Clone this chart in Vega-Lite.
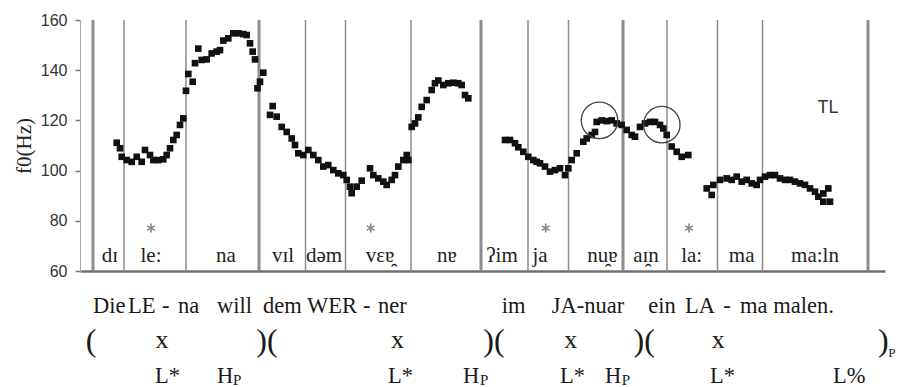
{
  "$schema": "https://vega.github.io/schema/vega-lite/v6.json",
  "width": 805,
  "height": 251,
  "autosize": {"type": "none"},
  "padding": {"left": 80, "top": 20, "right": 17, "bottom": 116},
  "background": "white",
  "config": {"view": {"stroke": null}},
  "datasets": {
    "pts": [
      {"t":36.7,"f":111.1},{"t":40,"f":108.9},{"t":41.7,"f":105.5},{"t":46.7,"f":104.2},{"t":51.7,"f":103.5},{"t":56.7,"f":105.5},{"t":61.7,"f":103.5},{"t":65,"f":108.2},{"t":70,"f":106.2},{"t":73.3,"f":104.2},{"t":78.3,"f":104.2},{"t":83.3,"f":104.5},{"t":86.7,"f":106.2},{"t":90,"f":108.9},{"t":93.3,"f":112.2},{"t":96.7,"f":114.2},{"t":100,"f":118.2},{"t":103.3,"f":120.8},
      {"t":106,"f":131.8},{"t":108.3,"f":138.5},{"t":112.7,"f":135.4},{"t":115,"f":142.8},{"t":118.3,"f":148.6},{"t":121.7,"f":144.1},{"t":126.7,"f":144.3},{"t":131.7,"f":146.7},{"t":136.7,"f":147.4},{"t":140,"f":148},{"t":143.3,"f":151.8},{"t":148.3,"f":152.7},{"t":153.3,"f":154.7},{"t":158.3,"f":154.7},{"t":163.3,"f":154.4},{"t":166.7,"f":154},{"t":170,"f":150.7},{"t":172.7,"f":147.4},{"t":175,"f":144.3},{"t":177.5,"f":132.8},{"t":180,"f":135.4},{"t":183.3,"f":139},
      {"t":190,"f":122.2},{"t":192.7,"f":125.7},{"t":196.7,"f":121.5},{"t":201.7,"f":117.4},{"t":206.7,"f":115.4},{"t":211.7,"f":112.8},{"t":215,"f":110.2},{"t":218.3,"f":106.9},
      {"t":223.3,"f":106.2},{"t":228.3,"f":108.2},{"t":233.3,"f":106.2},{"t":238.3,"f":104.2},{"t":243.3,"f":101.6},{"t":248.3,"f":102.2},{"t":253.3,"f":100.2},{"t":258.3,"f":98.9},{"t":263.3,"f":98.2},{"t":266.7,"f":96.3},{"t":270,"f":93.6},{"t":271.7,"f":91},{"t":276.7,"f":93.6},{"t":281.7,"f":96},
      {"t":290,"f":100.9},{"t":293.3,"f":98.2},{"t":298.3,"f":96.9},{"t":303.3,"f":95.6},{"t":306.7,"f":94.3},{"t":311.7,"f":96.3},{"t":315,"f":98.2},{"t":318.3,"f":101.6},{"t":323.3,"f":104.2},{"t":326.7,"f":106.2},{"t":328.3,"f":104.2},
      {"t":331.7,"f":117.4},{"t":335,"f":118.8},{"t":338.3,"f":121.2},{"t":341.7,"f":125.4},{"t":346.7,"f":128.1},{"t":351.7,"f":132.1},{"t":355,"f":134.8},{"t":358.3,"f":135.9},{"t":363.3,"f":134.1},{"t":368.3,"f":134.8},{"t":373.3,"f":135},{"t":378.3,"f":134.8},{"t":381.7,"f":134.1},{"t":385,"f":130.1},{"t":388.3,"f":128.8},
      {"t":425,"f":112.2},{"t":430,"f":112.2},{"t":435,"f":110.9},{"t":438.3,"f":109.3},{"t":443.3,"f":107.5},{"t":448.3,"f":105.5},{"t":453.3,"f":104.2},{"t":456.7,"f":103.5},{"t":460,"f":102.9},{"t":465,"f":101.6},{"t":470,"f":99.6},{"t":475,"f":100.2},{"t":480,"f":100.9},{"t":485,"f":98.2},{"t":488.3,"f":100.9},{"t":491.7,"f":104.2},{"t":496.7,"f":106.9},{"t":503.3,"f":111.5},{"t":506.7,"f":112.8},{"t":511.7,"f":114.2},{"t":515,"f":115.4},{"t":516.7,"f":119.4},{"t":521.7,"f":120},{"t":526.7,"f":119.7},{"t":531.7,"f":120},{"t":536.7,"f":118.8},{"t":541.7,"f":118.2},{"t":546.7,"f":116.2},{"t":551.7,"f":114.2},{"t":555,"f":113.5},{"t":560,"f":117.4},{"t":565,"f":118.8},{"t":570,"f":119.4},{"t":575,"f":119.4},{"t":580,"f":118.2},{"t":583.3,"f":116.8},{"t":586.7,"f":114.2},{"t":591.7,"f":109.6},{"t":596.7,"f":107.5},{"t":601.7,"f":105.5},{"t":608.3,"f":106.2},
      {"t":626.7,"f":92.9},{"t":631.7,"f":90.3},{"t":633.3,"f":94.3},{"t":640,"f":96.3},{"t":646.7,"f":96.9},{"t":651.7,"f":96.3},{"t":656.7,"f":97.6},{"t":661.7,"f":95.6},{"t":666.7,"f":96.3},{"t":671.7,"f":94.9},{"t":676.7,"f":94.3},{"t":680,"f":96.3},{"t":685,"f":97.6},{"t":690,"f":98.2},{"t":695,"f":98.2},{"t":700,"f":96.9},{"t":705,"f":96.3},{"t":710,"f":96.3},{"t":715,"f":95.6},{"t":720,"f":94.9},{"t":725,"f":94.3},{"t":730,"f":92.9},{"t":735,"f":91.6},{"t":738.3,"f":89.6},{"t":743.3,"f":90.9},{"t":748.3,"f":92.9},{"t":743.3,"f":87.6},{"t":750,"f":87.6}
    ],
    "bounds": [
      {"t":13,"kind":"phrase"},{"t":44,"kind":"syllable"},{"t":106,"kind":"syllable"},{"t":179,"kind":"phrase"},{"t":225.5,"kind":"syllable"},{"t":265.5,"kind":"syllable"},{"t":331,"kind":"syllable"},{"t":401,"kind":"phrase"},{"t":448,"kind":"syllable"},{"t":488.5,"kind":"syllable"},{"t":543,"kind":"phrase"},{"t":587,"kind":"syllable"},{"t":637.5,"kind":"syllable"},{"t":682.5,"kind":"syllable"},{"t":788,"kind":"phrase"}
    ],
    "syl": [
      {"t":30,"f":63.6,"s":"dɪ"},{"t":71,"f":63.6,"s":"le:"},{"t":146,"f":63.6,"s":"na"},{"t":203,"f":63.6,"s":"vɪl"},{"t":244,"f":63.6,"s":"dəm"},{"t":300,"f":63.6,"s":"vɛɐ̯"},{"t":367,"f":63.6,"s":"nɐ"},{"t":422,"f":63.6,"s":"ʔim"},{"t":460,"f":63.6,"s":"ja"},{"t":522.5,"f":63.6,"s":"nu̯ɐ"},{"t":566,"f":63.6,"s":"aɪ̯n"},{"t":611.7,"f":63.6,"s":"la:"},{"t":661.7,"f":63.6,"s":"ma"},{"t":735,"f":63.6,"s":"ma:ln"}
    ],
    "stars": [
      {"t":71,"f":77.1},{"t":290.7,"f":77.1},{"t":465.7,"f":77.1},{"t":609,"f":77.1}
    ],
    "circles": [
      {"t":519.5,"f":120},{"t":581.8,"f":118.3}
    ],
    "tl": [{"t":748,"f":125,"s":"TL"}],
    "line1": [
      {"t":13,"f":43.15,"s":"Die"},{"t":48,"f":43.15,"s":"LE"},{"t":82,"f":43.15,"s":"-"},{"t":98,"f":43.15,"s":"na"},{"t":137,"f":43.15,"s":"will"},{"t":183,"f":43.15,"s":"dem"},{"t":227,"f":43.15,"s":"WER"},{"t":283,"f":43.15,"s":"-"},{"t":298,"f":43.15,"s":"ner"},{"t":421.7,"f":43.15,"s":"im"},{"t":471.7,"f":43.15,"s":"JA-nuar"},{"t":568.3,"f":43.15,"s":"ein"},{"t":605,"f":43.15,"s":"LA"},{"t":643.3,"f":43.15,"s":"-"},{"t":660,"f":43.15,"s":"ma"},{"t":693.3,"f":43.15,"s":"malen."}
    ],
    "xs": [
      {"t":82,"f":29.3,"s":"x"},{"t":317.5,"f":29.3,"s":"x"},{"t":490.8,"f":29.3,"s":"x"},{"t":638.3,"f":29.3,"s":"x"}
    ],
    "parens": [
      {"t":11,"f":28.1,"s":"("},{"t":187,"f":28.1,"s":")("},{"t":414,"f":28.1,"s":")("},{"t":564.2,"f":28.1,"s":")("},{"t":803.3,"f":28.1,"s":")"}
    ],
    "sub2": [{"t":808.3,"f":25.7,"s":"P"}],
    "line3": [
      {"t":75,"f":15.2,"s":"L*"},{"t":137,"f":15.2,"s":"H"},{"t":308,"f":15.2,"s":"L*"},{"t":383,"f":15.2,"s":"H"},{"t":480,"f":15.2,"s":"L*"},{"t":525,"f":15.2,"s":"H"},{"t":630,"f":15.2,"s":"L*"},{"t":753,"f":15.2,"s":"L%"}
    ],
    "sub3": [
      {"t":153,"f":14.6,"s":"P"},{"t":400,"f":14.6,"s":"P"},{"t":541.7,"f":14.6,"s":"P"}
    ]
  },
  "encoding": {
    "x": {"field": "t", "type": "quantitative", "scale": {"domain": [0, 805], "nice": false, "zero": false},
      "axis": {"title": null, "labels": false, "ticks": false, "grid": false, "domainColor": "#707070", "domainWidth": 2.5}}
  },
  "layer": [
    {
      "data": {"name": "bounds"},
      "transform": [{"filter": "datum.kind === 'syllable'"}],
      "mark": {"type": "rule", "color": "#8c8c8c", "strokeWidth": 1.5},
      "encoding": {}
    },
    {
      "data": {"name": "bounds"},
      "transform": [{"filter": "datum.kind === 'phrase'"}],
      "mark": {"type": "rule", "color": "#8c8c8c", "strokeWidth": 3},
      "encoding": {}
    },
    {
      "data": {"name": "pts"},
      "mark": {"type": "point", "shape": "square", "filled": true, "size": 44, "color": "#111111", "opacity": 1},
      "encoding": {
        "y": {"field": "f", "type": "quantitative", "scale": {"domain": [60, 160], "nice": false, "zero": false},
          "axis": {"title": "f0(Hz)", "values": [60, 80, 100, 120, 140, 160], "grid": false, "domainColor": "#aaaaaa", "domainWidth": 1, "tickColor": "#777777", "tickSize": 5, "tickWidth": 1.5,
            "labelFont": "Liberation Sans", "labelFontSize": 16, "labelColor": "#333333", "labelPadding": 8,
            "titleFont": "'Liberation Serif', 'Times New Roman', serif", "titleFontSize": 21, "titleFontWeight": "normal", "titleColor": "#222222", "titlePadding": 6}}
      }
    },
    {
      "data": {"name": "circles"},
      "mark": {"type": "point", "shape": "circle", "filled": false, "size": 1330, "stroke": "#444444", "strokeWidth": 1.3, "opacity": 1},
      "encoding": {"y": {"field": "f", "type": "quantitative", "scale": {"domain": [60, 160], "nice": false, "zero": false}}}
    },
    {
      "data": {"name": "stars"},
      "mark": {"type": "point", "shape": "M0,-1L0,1M-0.866,-0.5L0.866,0.5M-0.866,0.5L0.866,-0.5", "filled": false, "size": 81, "stroke": "#888888", "strokeWidth": 1.6, "opacity": 1},
      "encoding": {"y": {"field": "f", "type": "quantitative", "scale": {"domain": [60, 160], "nice": false, "zero": false}}}
    },
    {
      "data": {"name": "syl"},
      "mark": {"type": "text", "font": "'Liberation Serif', 'Times New Roman', serif", "fontSize": 21, "color": "#222222", "align": "center", "baseline": "alphabetic"},
      "encoding": {"y": {"field": "f", "type": "quantitative", "scale": {"domain": [60, 160], "nice": false, "zero": false}}, "text": {"field": "s"}}
    },
    {
      "data": {"name": "tl"},
      "mark": {"type": "text", "font": "Liberation Sans", "fontSize": 18, "color": "#333333", "align": "center", "baseline": "middle"},
      "encoding": {"y": {"field": "f", "type": "quantitative", "scale": {"domain": [60, 160], "nice": false, "zero": false}}, "text": {"field": "s"}}
    },
    {
      "data": {"name": "line1"},
      "mark": {"type": "text", "font": "'Liberation Serif', 'Times New Roman', serif", "fontSize": 22.5, "color": "#1a1a1a", "align": "left", "baseline": "alphabetic"},
      "encoding": {"y": {"field": "f", "type": "quantitative", "scale": {"domain": [60, 160], "nice": false, "zero": false}}, "text": {"field": "s"}}
    },
    {
      "data": {"name": "xs"},
      "mark": {"type": "text", "font": "'Liberation Serif', 'Times New Roman', serif", "fontSize": 26, "color": "#1a1a1a", "align": "center", "baseline": "alphabetic"},
      "encoding": {"y": {"field": "f", "type": "quantitative", "scale": {"domain": [60, 160], "nice": false, "zero": false}}, "text": {"field": "s"}}
    },
    {
      "data": {"name": "parens"},
      "mark": {"type": "text", "font": "'Liberation Serif', 'Times New Roman', serif", "fontSize": 32, "color": "#1a1a1a", "align": "center", "baseline": "alphabetic"},
      "encoding": {"y": {"field": "f", "type": "quantitative", "scale": {"domain": [60, 160], "nice": false, "zero": false}}, "text": {"field": "s"}}
    },
    {
      "data": {"name": "sub2"},
      "mark": {"type": "text", "font": "'Liberation Serif', 'Times New Roman', serif", "fontSize": 13, "color": "#1a1a1a", "align": "left", "baseline": "alphabetic"},
      "encoding": {"y": {"field": "f", "type": "quantitative", "scale": {"domain": [60, 160], "nice": false, "zero": false}}, "text": {"field": "s"}}
    },
    {
      "data": {"name": "line3"},
      "mark": {"type": "text", "font": "'Liberation Serif', 'Times New Roman', serif", "fontSize": 22.5, "color": "#1a1a1a", "align": "left", "baseline": "alphabetic"},
      "encoding": {"y": {"field": "f", "type": "quantitative", "scale": {"domain": [60, 160], "nice": false, "zero": false}}, "text": {"field": "s"}}
    },
    {
      "data": {"name": "sub3"},
      "mark": {"type": "text", "font": "'Liberation Serif', 'Times New Roman', serif", "fontSize": 15, "color": "#1a1a1a", "align": "left", "baseline": "alphabetic"},
      "encoding": {"y": {"field": "f", "type": "quantitative", "scale": {"domain": [60, 160], "nice": false, "zero": false}}, "text": {"field": "s"}}
    }
  ]
}
